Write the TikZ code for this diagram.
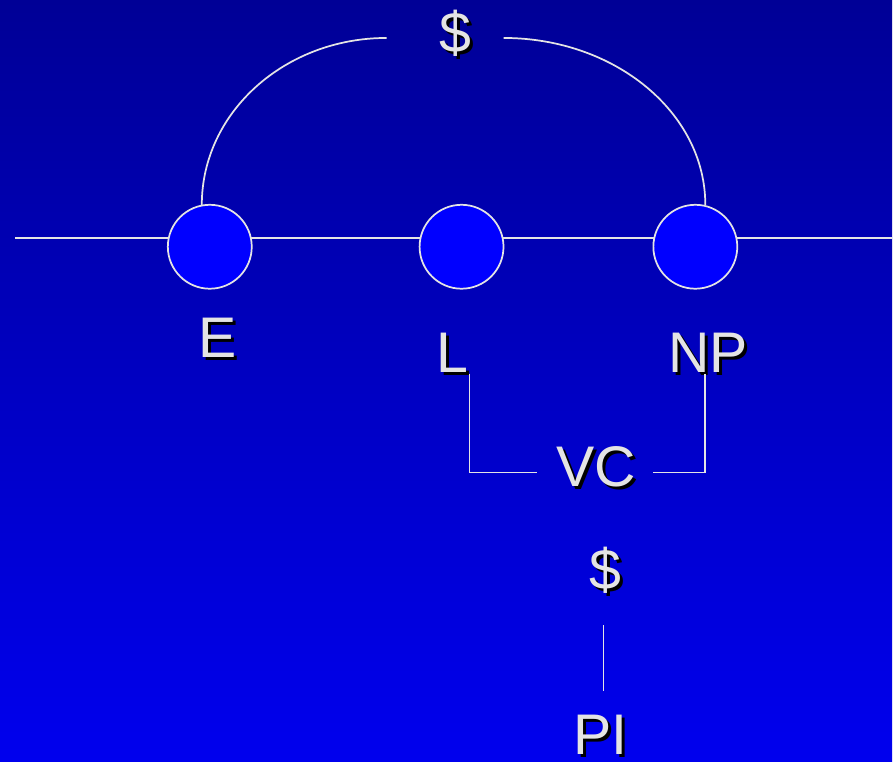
\documentclass[tikz,border=0pt]{standalone}
\usepackage{fontspec}
\setmainfont{Liberation Sans}
\usepackage{xcolor}
\definecolor{bgtop}{RGB}{0,0,150}
\definecolor{bgbot}{RGB}{0,0,238}
\definecolor{dotblue}{RGB}{0,0,255}
\definecolor{ink}{RGB}{228,228,228}
\newcommand{\shd}[1]{\rlap{\hspace{2.2pt}\raisebox{-2.2pt}{\color{black}#1}}#1}
\tikzstyle{dot}=[circle,draw=ink,line width=1.3pt,fill=dotblue,minimum size=63pt,inner sep=0pt]
\tikzstyle{lbl}=[text=ink,anchor=base,inner sep=0pt,font=\fontsize{43}{50}\selectfont]
\tikzstyle{wire}=[draw=ink,line width=1.3pt]

\begin{document}
\begin{tikzpicture}[x=0.75pt,y=-0.75pt]
	\shade[top color=bgtop,bottom color=bgbot] (0,0) rectangle (893,762);
	\coordinate (lft) at (15,238);
	\coordinate (rgt) at (893,238);
	\draw[wire] (lft) -- (rgt);
	\node [dot] (e)  at (210,247) {};
	\node [dot] (l)  at (462,247) {};
	\node [dot] (np) at (696,247) {};
	% labels
	\node [lbl] (top) at (456,53)  {\shd{\$}};
	\node [lbl] (E)   at (218,358) {\shd{E}};
	\node [lbl] (L)   at (453,373) {\shd{L}};
	\node [lbl] (NP)  at (709,373) {\shd{NP}};
	\node [lbl] (VC)  at (597,487) {\shd{VC}};
	\node [lbl] (low) at (606,590) {\shd{\$}};
	\node [lbl] (PI)  at (601,755) {\shd{PI}};
	% arc over the top
	\coordinate (ea) at (202,205);
	\coordinate (npa) at (706,205);
	\draw[wire] (ea) arc[start angle=180,end angle=270,x radius=185,y radius=167];
	\draw[wire] (npa) arc[start angle=0,end angle=-90,x radius=202,y radius=167];
	% brackets to VC
	\coordinate (lb) at (470,374);
	\coordinate (npb) at (706,374);
	\coordinate (vcl) at (538,473);
	\coordinate (vcr) at (654,473);
	\draw[wire] (lb) |- (vcl);
	\draw[wire] (npb) |- (vcr);
	\coordinate (pt) at (604,626);
	\coordinate (pb) at (604,692);
	\draw[wire] (pt) -- (pb);
\end{tikzpicture}
\end{document}
